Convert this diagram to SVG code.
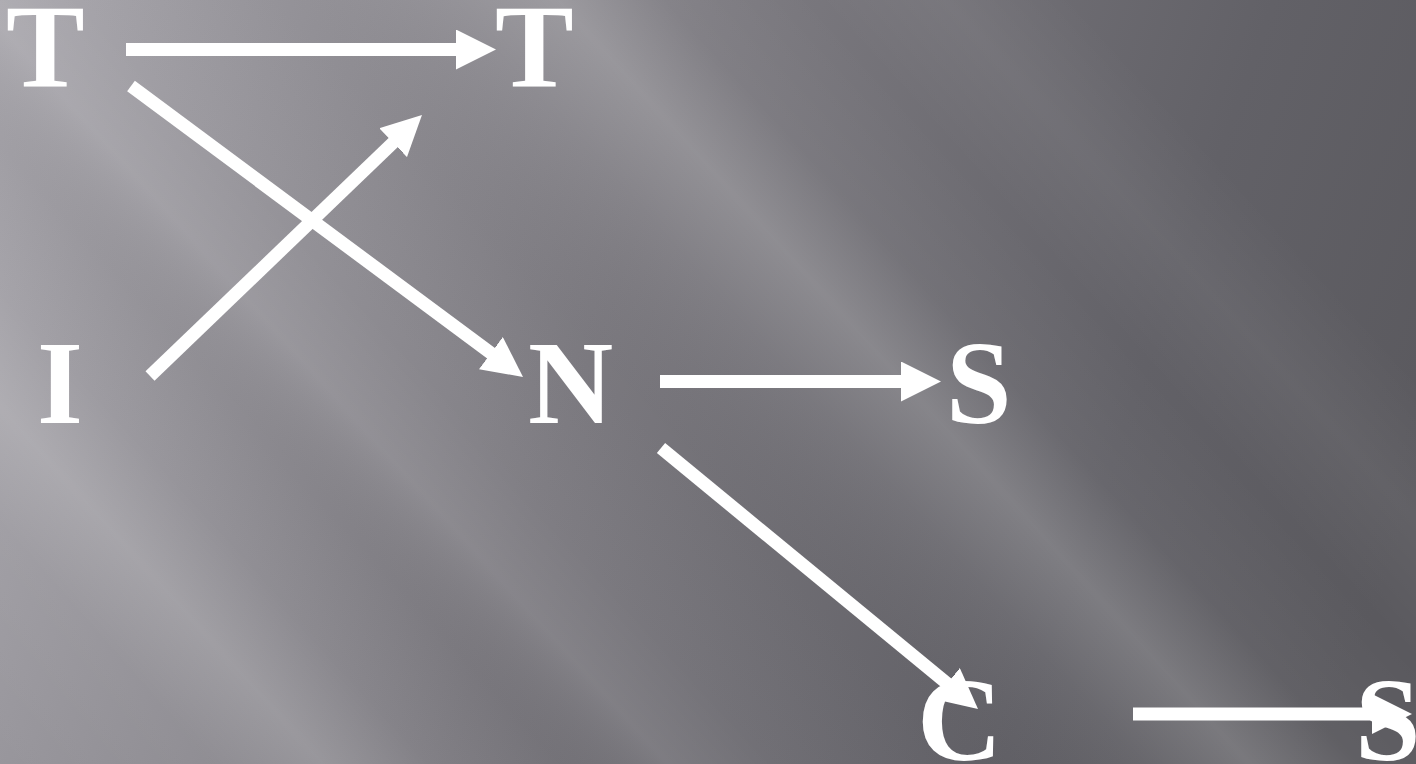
<svg xmlns="http://www.w3.org/2000/svg" width="1416" height="764" viewBox="0 0 1416 764">
  <defs>
    <linearGradient id="base" gradientUnits="userSpaceOnUse" x1="0" y1="0" x2="1416" y2="500">
      <stop offset="0" stop-color="#a9a7ad"/>
      <stop offset="0.45" stop-color="#7d7b81"/>
      <stop offset="0.8" stop-color="#626167"/>
      <stop offset="1" stop-color="#5a595e"/>
    </linearGradient>
    <linearGradient id="streaks" gradientUnits="userSpaceOnUse" x1="0" y1="764" x2="1184" y2="-308">
      <stop offset="0" stop-color="#ffffff" stop-opacity="0"/>
      <stop offset="0.10" stop-color="#ffffff" stop-opacity="0.04"/>
      <stop offset="0.15" stop-color="#ffffff" stop-opacity="0.16"/>
      <stop offset="0.20" stop-color="#ffffff" stop-opacity="0.03"/>
      <stop offset="0.26" stop-color="#000000" stop-opacity="0.03"/>
      <stop offset="0.31" stop-color="#ffffff" stop-opacity="0.08"/>
      <stop offset="0.36" stop-color="#ffffff" stop-opacity="0.02"/>
      <stop offset="0.45" stop-color="#000000" stop-opacity="0.02"/>
      <stop offset="0.53" stop-color="#ffffff" stop-opacity="0.06"/>
      <stop offset="0.58" stop-color="#ffffff" stop-opacity="0.18"/>
      <stop offset="0.63" stop-color="#ffffff" stop-opacity="0.04"/>
      <stop offset="0.70" stop-color="#ffffff" stop-opacity="0"/>
      <stop offset="0.76" stop-color="#ffffff" stop-opacity="0.05"/>
      <stop offset="0.82" stop-color="#ffffff" stop-opacity="0"/>
      <stop offset="1" stop-color="#ffffff" stop-opacity="0"/>
    </linearGradient>
    <marker id="head" markerUnits="userSpaceOnUse" markerWidth="40" markerHeight="40" refX="4" refY="20" orient="auto" viewBox="0 0 40 40">
      <path d="M0,0 L40,20 L0,40 Z" fill="#ffffff"/>
    </marker>
  </defs>
  <style>
    .lbl { font-size: 118px; font-weight: bold; fill: #ffffff; }
    .conn { stroke: #ffffff; stroke-width: 13; stroke-linecap: butt; fill: none; marker-end: url(#head); }
  </style>

  <rect x="0" y="0" width="1416" height="764" fill="url(#base)"/>
  <rect x="0" y="0" width="1416" height="764" fill="url(#streaks)"/>

  <g id="connectors">
    <line class="conn" x1="126" y1="49.5" x2="460" y2="49.5"/>
    <line class="conn" x1="131" y1="86" x2="494.1" y2="355.5"/>
    <line class="conn" x1="150" y1="376" x2="396" y2="139.9"/>
    <line class="conn" x1="660" y1="381.5" x2="905" y2="381.5"/>
    <line class="conn" x1="661" y1="448" x2="950.2" y2="686.1"/>
    <line class="conn" x1="1133" y1="714" x2="1376" y2="714"/>
  </g>

  <g font-family="'Liberation Serif', 'Times New Roman', Times, serif">
    <g id="node-T1"><text class="lbl" x="6" y="87">T</text></g>
    <g id="node-T2"><text class="lbl" x="495" y="87">T</text></g>
    <g id="node-I"><text class="lbl" x="37" y="423">I</text></g>
    <g id="node-N"><text class="lbl" x="528" y="423">N</text></g>
    <g id="node-S1"><text class="lbl" x="946" y="423">S</text></g>
    <g id="node-C"><text class="lbl" x="917" y="760">C</text></g>
    <g id="node-S2"><text class="lbl" x="1355" y="760">S</text></g>
  </g>
</svg>
